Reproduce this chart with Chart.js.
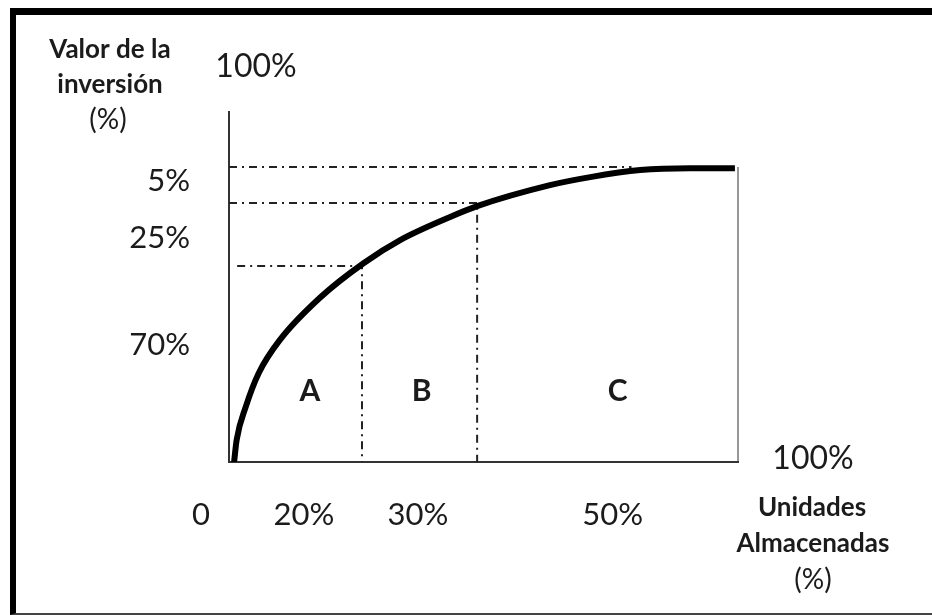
<!DOCTYPE html>
<html>
<head>
<meta charset="utf-8">
<script src="https://cdn.jsdelivr.net/npm/chart.js@4"></script>
<style>
  html, body { margin: 0; padding: 0; background: #fff; overflow: hidden; }
  #wrap { position: relative; width: 932px; height: 615px; }
  #chart { position: absolute; left: 0; top: 0; }
  #frame {
    position: absolute; left: 10px; top: 8px; width: 940px; height: 607px;
    box-sizing: border-box; pointer-events: none;
    border-top: 7px solid #000; border-left: 6px solid #000; border-bottom: 2px solid #444;
  }
</style>
</head>
<body>
<div id="wrap">
  <canvas id="chart" width="932" height="615"></canvas>
  <div id="frame"></div>
</div>
<script>
// ABC curve (cumulative investment vs stored units)
const curveX = [1.0, 1.5, 3.3, 5.8, 10.0, 17.9, 26.4, 33.6, 43.4, 48.7, 63.0, 70.9, 80.7, 90.5, 99.3];
const curveY = [0, 6.3, 15.8, 25.3, 34.9, 47.0, 56.8, 63.4, 70.0, 73.1, 79.1, 81.4, 83.4, 83.9, 83.9];

// zone limits (where the dash-dot guides sit)
const zoneEndX = [26.1, 48.7];
const zoneEndY = [56.0, 74.0];
const topGuideY = 84.3;
const topGuideEndX = 79;

// tick labels
const xTickValues = [-5.5, 14.7, 37.1, 75.3];
const xTickLabels = ['0', '20%', '30%', '50%'];
const yTickValues = [80.3, 64.1, 33.4];
const yTickLabels = ['5%', '25%', '70%'];

// zone letters
const zoneLabels = ['A', 'B', 'C'];
const zoneLabelX = [15.9, 37.8, 76.3];
const zoneLabelY = 20.3;

const dashDot = [8, 5, 2, 5];

function pts(xs, ys) {
    return xs.map((x, i) => ({ x: x, y: ys[i] }));
}

const guideStyle = {
    borderColor: '#222',
    borderWidth: 2,
    borderDash: dashDot,
    pointRadius: 0,
    showLine: true,
    fill: false
};

const textPlugin = {
    id: 'extraText',
    afterDraw(chart) {
        const ctx = chart.ctx;
        const xs = chart.scales.x, ys = chart.scales.y;
        ctx.save();
        ctx.fillStyle = '#1b1b1b';
        ctx.textAlign = 'center';
        ctx.textBaseline = 'middle';

        // zone letters
        ctx.font = 'bold 30px Lato';
        zoneLabels.forEach((l, i) => {
            ctx.fillText(l, xs.getPixelForValue(zoneLabelX[i]), ys.getPixelForValue(zoneLabelY));
        });

        // axis end labels
        ctx.font = '32px Lato';
        ctx.fillText('100%', 256, 67);
        ctx.fillText('100%', 813, 459);

        // axis titles
        ctx.textBaseline = 'alphabetic';
        ctx.font = 'bold 26px Lato';
        ctx.fillText('Valor de la', 110, 58);
        ctx.fillText('inversión', 110, 93);
        ctx.fillText('Unidades', 812, 516);
        ctx.fillText('Almacenadas', 813, 552);
        ctx.font = '28px Lato';
        ctx.fillText('(%)', 108, 129);
        ctx.fillText('(%)', 813, 589);
        ctx.restore();
    }
};

new Chart(document.getElementById('chart'), {
    type: 'scatter',
    data: {
        datasets: [{
            data: pts(curveX, curveY),
            borderColor: '#000',
            borderWidth: 6,
            borderCapStyle: 'butt',
            cubicInterpolationMode: 'monotone',
            pointRadius: 0,
            showLine: true,
            fill: false
        }, {
            ...guideStyle,
            data: [{ x: 0, y: topGuideY }, { x: topGuideEndX, y: topGuideY }]
        }, {
            ...guideStyle,
            data: [{ x: 0, y: zoneEndY[1] }, { x: zoneEndX[1], y: zoneEndY[1] }, { x: zoneEndX[1], y: 0 }]
        }, {
            ...guideStyle,
            data: [{ x: 1.6, y: zoneEndY[0] }, { x: zoneEndX[0], y: zoneEndY[0] }, { x: zoneEndX[0], y: 0 }]
        }, {
            // right edge of the box
            data: [{ x: 100, y: 0 }, { x: 100, y: topGuideY }],
            borderColor: '#333',
            borderWidth: 2,
            pointRadius: 0,
            showLine: true,
            fill: false
        }]
    },
    options: {
        responsive: false,
        devicePixelRatio: 1,
        animation: false,
        layout: { padding: { top: 112, right: 193.5, left: 0, bottom: 0 } },
        plugins: {
            legend: { display: false },
            tooltip: { enabled: false }
        },
        scales: {
            x: {
                type: 'linear',
                min: 0,
                max: 100,
                grid: { display: false, drawTicks: false },
                border: { display: true, color: '#333', width: 2 },
                ticks: {
                    autoSkip: false,
                    maxRotation: 0,
                    padding: 34,
                    color: '#1b1b1b',
                    font: { family: 'Lato', size: 31 },
                    callback: (v, i) => xTickLabels[i]
                },
                afterBuildTicks: scale => {
                    scale.ticks = xTickValues.map(v => ({ value: v }));
                },
                afterFit: scale => { scale.height = 153; }
            },
            y: {
                type: 'linear',
                min: 0,
                max: 100,
                grid: { display: false, drawTicks: false },
                border: { display: true, color: '#333', width: 2 },
                ticks: {
                    autoSkip: false,
                    padding: 39,
                    color: '#1b1b1b',
                    font: { family: 'Lato', size: 31 },
                    callback: (v, i) => yTickLabels[i]
                },
                afterBuildTicks: scale => {
                    scale.ticks = yTickValues.map(v => ({ value: v }));
                },
                afterFit: scale => { scale.width = 229; }
            }
        }
    },
    plugins: [textPlugin]
});
</script>
</body>
</html>
